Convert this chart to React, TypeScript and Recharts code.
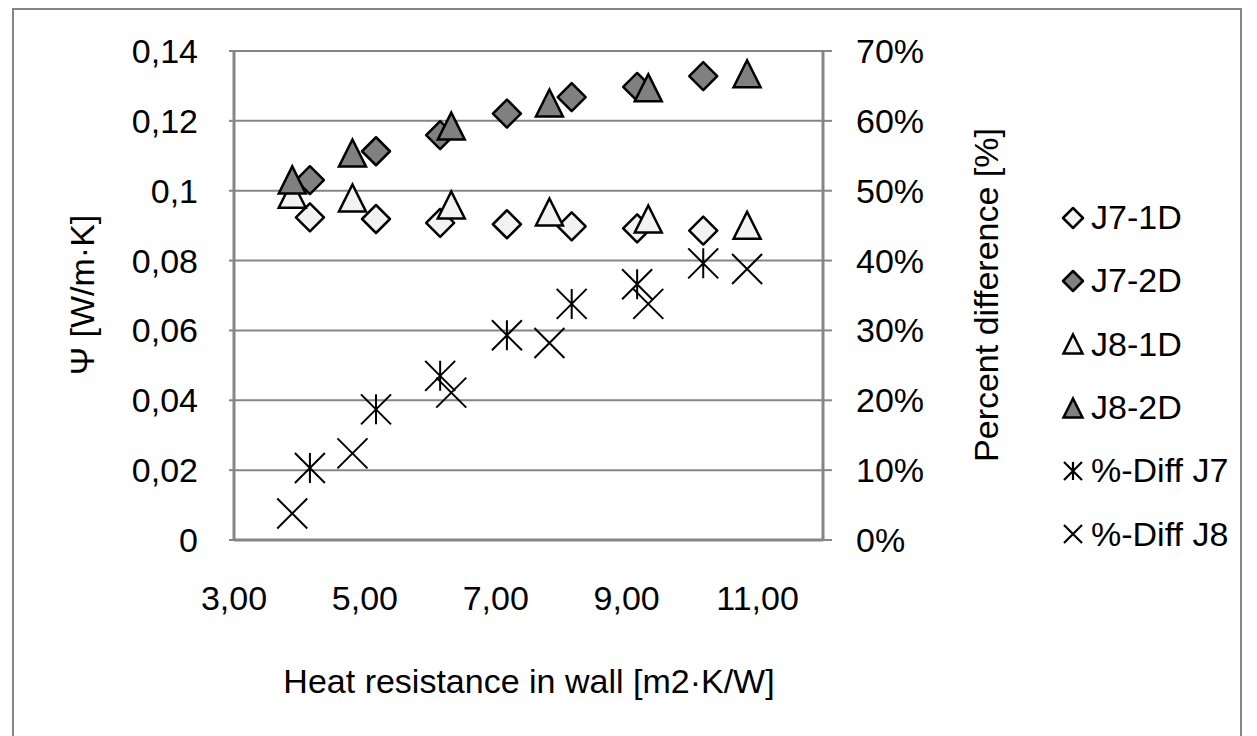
import React from "react";
import { ScatterChart, Scatter, XAxis, YAxis, CartesianGrid } from "recharts";

// x positions (heat resistance, m2K/W)
const j7X = [4.16, 5.17, 6.15, 7.17, 8.16, 9.16, 10.17];
const j8X = [3.89, 4.81, 6.32, 7.82, 9.33, 10.84];

// psi values W/mK
const j7_1D = [0.0924, 0.0919, 0.0908, 0.0904, 0.0898, 0.0892, 0.0886];
const j7_2D = [0.103, 0.1113, 0.1159, 0.1221, 0.1268, 0.1297, 0.1328];
const j8_1D = [0.099, 0.0979, 0.0959, 0.0939, 0.0919, 0.0901];
const j8_2D = [0.1031, 0.1108, 0.1185, 0.1251, 0.1295, 0.1335];

// percent difference (right axis)
const diffJ7 = [0.103, 0.187, 0.235, 0.293, 0.338, 0.366, 0.396];
const diffJ8 = [0.038, 0.124, 0.211, 0.282, 0.338, 0.388];

const xTicks = [3, 5, 7, 9, 11];
const psiTicks = [0, 0.02, 0.04, 0.06, 0.08, 0.1, 0.12, 0.14];
const pctTicks = [0, 0.1, 0.2, 0.3, 0.4, 0.5, 0.6, 0.7];

const FONT = "'Liberation Sans', Arial, sans-serif";
const GREY = "#868686";
const LIGHT = "#f2f2f2";
const DARK = "#808080";
const FS = 34;

const zip = (xs: number[], ys: number[]) => xs.map((x, i) => ({ x, y: ys[i] }));

const diamond = (r: number, fill: string, sw = 2.5) => (p: any) => {
  const { cx, cy } = p;
  return (
    <path
      d={`M${cx},${cy - r}L${cx + r},${cy}L${cx},${cy + r}L${cx - r},${cy}Z`}
      fill={fill}
      stroke="#000"
      strokeWidth={sw}
      strokeLinejoin="round"
    />
  );
};

const triangle = (s: number, fill: string, sw = 2.5) => (p: any) => {
  const { cx, cy } = p;
  const h = s / 2;
  return (
    <path
      d={`M${cx},${cy - h}L${cx + h},${cy + h}L${cx - h},${cy + h}Z`}
      fill={fill}
      stroke="#000"
      strokeWidth={sw}
    />
  );
};

const star = (r: number, sw = 2) => (p: any) => {
  const { cx, cy } = p;
  return (
    <path
      d={`M${cx - r},${cy - r}L${cx + r},${cy + r}M${cx - r},${cy + r}L${cx + r},${cy - r}M${cx},${cy - r}L${cx},${cy + r}`}
      stroke="#000"
      strokeWidth={sw}
      fill="none"
    />
  );
};

const cross = (r: number, sw = 2) => (p: any) => {
  const { cx, cy } = p;
  return (
    <path
      d={`M${cx - r},${cy - r}L${cx + r},${cy + r}M${cx - r},${cy + r}L${cx + r},${cy - r}`}
      stroke="#000"
      strokeWidth={sw}
      fill="none"
    />
  );
};

const series = [
  { name: "J7-1D", data: zip(j7X, j7_1D), axis: "left", shape: diamond(14, LIGHT), icon: diamond(10, LIGHT, 2.5) },
  { name: "J7-2D", data: zip(j7X, j7_2D), axis: "left", shape: diamond(14, DARK), icon: diamond(10, DARK, 2.5) },
  { name: "J8-1D", data: zip(j8X, j8_1D), axis: "left", shape: triangle(27, LIGHT), icon: triangle(19, LIGHT, 2.5) },
  { name: "J8-2D", data: zip(j8X, j8_2D), axis: "left", shape: triangle(27, DARK), icon: triangle(19, DARK, 2.5) },
  { name: "%-Diff J7", data: zip(j7X, diffJ7), axis: "right", shape: star(15), icon: star(9, 2.2) },
  { name: "%-Diff J8", data: zip(j8X, diffJ8), axis: "right", shape: cross(15), icon: cross(9, 2.2) },
];

const fmtComma = (v: number) => String(v).replace(".", ",");
const fmtX = (v: number) => v.toFixed(2).replace(".", ",");
const fmtPct = (v: number) => `${Math.round(v * 100)}%`;

const tickStyle = { fill: "#000", fontSize: FS, fontFamily: FONT };

const titleStyle: React.CSSProperties = {
  position: "absolute",
  whiteSpace: "nowrap",
  fontSize: FS,
  color: "#000",
};

export default function App() {
  return (
    <div
      style={{
        position: "absolute",
        left: 0,
        top: 0,
        width: 1257,
        height: 736,
        background: "#fff",
        overflow: "hidden",
        fontFamily: FONT,
      }}
    >
      <div
        style={{
          position: "absolute",
          left: 12,
          top: 8,
          width: 1230,
          height: 760,
          border: `2px solid ${GREY}`,
          boxSizing: "border-box",
        }}
      />
      <div style={{ position: "absolute", left: 0, top: 0 }}>
        <ScatterChart width={1257} height={736} margin={{ top: 51, right: 0, bottom: 0, left: 0 }}>
          <CartesianGrid vertical={false} stroke={GREY} strokeWidth={2} yAxisId="left" />
          <XAxis
            type="number"
            dataKey="x"
            domain={[3, 12]}
            ticks={xTicks}
            tickFormatter={fmtX}
            height={196}
            tickLine={false}
            tickSize={0}
            tickMargin={46}
            axisLine={{ stroke: GREY, strokeWidth: 3 }}
            tick={tickStyle}
            allowDataOverflow
          />
          <YAxis
            yAxisId="left"
            type="number"
            dataKey="y"
            domain={[0, 0.14]}
            ticks={psiTicks}
            tickFormatter={fmtComma}
            width={234}
            tickSize={5}
            tickMargin={31}
            tickLine={{ stroke: GREY, strokeWidth: 2 }}
            axisLine={{ stroke: GREY, strokeWidth: 3 }}
            tick={tickStyle}
            allowDataOverflow
          />
          <YAxis
            yAxisId="right"
            orientation="right"
            type="number"
            dataKey="y"
            domain={[0, 0.7]}
            ticks={pctTicks}
            tickFormatter={fmtPct}
            width={434}
            tickSize={9}
            tickMargin={24}
            tickLine={{ stroke: GREY, strokeWidth: 2 }}
            axisLine={{ stroke: GREY, strokeWidth: 3 }}
            tick={tickStyle}
            allowDataOverflow
          />
          {series.map((s) => (
            <Scatter
              key={s.name}
              name={s.name}
              data={s.data}
              yAxisId={s.axis}
              shape={s.shape}
              isAnimationActive={false}
            />
          ))}
        </ScatterChart>
      </div>

      {/* axis titles */}
      <div style={{ ...titleStyle, left: 82, top: 295, transform: "translate(-50%, -50%) rotate(-90deg)" }}>
        Ψ [W/m·K]
      </div>
      <div style={{ ...titleStyle, left: 986, top: 295, transform: "translate(-50%, -50%) rotate(-90deg)" }}>
        Percent difference [%]
      </div>
      <div style={{ ...titleStyle, left: 529, top: 681, transform: "translate(-50%, -50%)" }}>
        Heat resistance in wall [m2·K/W]
      </div>

      {/* legend */}
      <div style={{ position: "absolute", left: 1058, top: 186 }}>
        {series.map((s) => (
          <div key={s.name} style={{ height: 63.3, display: "flex", alignItems: "center" }}>
            <svg width={30} height={30} style={{ marginRight: 3 }}>
              {s.icon({ cx: 15, cy: 15 })}
            </svg>
            <span style={{ fontSize: FS, color: "#000", whiteSpace: "nowrap" }}>{s.name}</span>
          </div>
        ))}
      </div>
    </div>
  );
}
